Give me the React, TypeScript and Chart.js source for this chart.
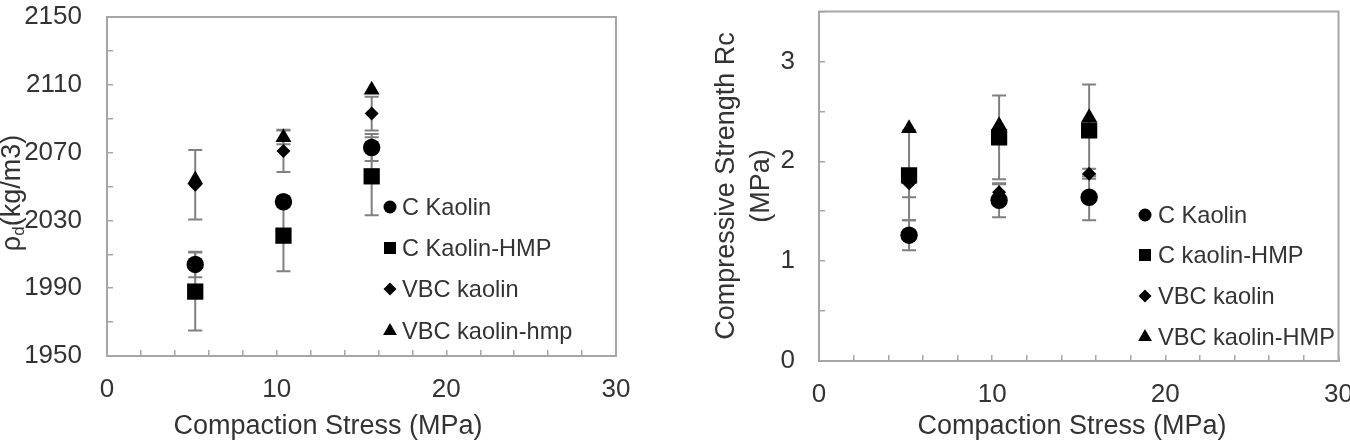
import React, { useEffect, useRef } from 'react';
import { Chart, registerables } from 'chart.js';

Chart.register(...registerables);

// ---------- data ----------
const stress = [5.2, 10.4, 15.6];

const rhoNames = ['C Kaolin', 'C Kaolin-HMP', 'VBC kaolin', 'VBC kaolin-hmp'];
const rhoCKaolin = [2004, 2041, 2073];
const rhoCKaolinErr = [7.5, 3, 8];
const rhoCKaolinHmp = [1988, 2021, 2056];
const rhoCKaolinHmpErr = [23, 21, 23];
const rhoVbcKaolin = [2051, 2071, 2093];
const rhoVbcKaolinErr = [20.5, 12.5, 10];
const rhoVbcKaolinHmp = [2054, 2079, 2107];
const rhoVbcKaolinHmpErr = [0, 4, 0];

const rcNames = ['C Kaolin', 'C kaolin-HMP', 'VBC kaolin', 'VBC kaolin-HMP'];
const rcCKaolin = [1.26, 1.61, 1.64];
const rcCKaolinErr = [0.15, 0.17, 0.23];
const rcCKaolinHmp = [1.86, 2.24, 2.31];
const rcCKaolinHmpErr = [0.45, 0.42, 0.46];
const rcVbcKaolin = [1.78, 1.69, 1.875];
const rcVbcKaolinErr = [0.14, 0.08, 0.05];
const rcVbcKaolinHmp = [2.33, 2.36, 2.44];
const rcVbcKaolinHmpErr = [0, 0, 0];

const xTitle = 'Compaction Stress (MPa)';
const rhoTitleMain = 'ρ';
const rhoTitleSub = 'd';
const rhoTitleRest = '(kg/m3)';
const rcTitleLines = ['Compressive Strength Rc', '(MPa)'];

const xRange = [0, 30];
const xStep = 2;
const xLabelEvery = 10;
const rhoRange = [1950, 2150];
const rhoStep = 20;
const rhoLabelEvery = 40;
const rcRange = [0, 3.5];
const rcStep = 0.5;
const rcLabelEvery = 1;

// ---------- styles ----------
const FONT = '"Liberation Sans", Arial, Helvetica, sans-serif';
const TEXT = '#333333';
const AXIS = '#a6a6a6';
const ERR = '#808080';
const STYLES = ['circle', 'rect', 'rectRot', 'triangle'];
const RADII = [8.7, 11.5, 7, 9.2];
const LEG_R = [6.5, 6, 6.5, 8];

type Panel = {
  left: number;
  width: number;
  height: number;
  area: { left: number; right: number; top: number; bottom: number };
  yMin: number;
  yMax: number;
  yStep: number;
  yLabel: (v: number) => string;
  yPad: number;
  names: string[];
  values: number[][];
  errors: number[][];
  drawYTitle: (ctx: CanvasRenderingContext2D) => void;
  xTitleX: number;
  legendMarkerX: number;
  legendTextX: number;
  legendRows: number[];
};

function drawMarker(ctx: CanvasRenderingContext2D, style: string, x: number, y: number, r: number) {
  ctx.beginPath();
  if (style === 'circle') {
    ctx.arc(x, y, r, 0, Math.PI * 2);
  } else if (style === 'rect') {
    ctx.rect(x - r, y - r, 2 * r, 2 * r);
  } else if (style === 'rectRot') {
    ctx.moveTo(x, y - r);
    ctx.lineTo(x + r, y);
    ctx.lineTo(x, y + r);
    ctx.lineTo(x - r, y);
    ctx.closePath();
  } else {
    ctx.moveTo(x, y - r);
    ctx.lineTo(x + r * 0.866, y + r / 2);
    ctx.lineTo(x - r * 0.866, y + r / 2);
    ctx.closePath();
  }
  ctx.fill();
}

function makeDecor(p: Panel) {
  return {
    id: 'decor',
    beforeDatasetsDraw(chart: any) {
      const { ctx, chartArea: a, scales } = chart;
      ctx.save();
      ctx.strokeStyle = AXIS;
      ctx.lineWidth = 2;
      ctx.strokeRect(a.left, a.top, a.right - a.left, a.bottom - a.top);
      ctx.strokeStyle = ERR;
      ctx.lineWidth = 2;
      chart.data.datasets.forEach((ds: any, i: number) => {
        const meta = chart.getDatasetMeta(i);
        (ds.errors as number[]).forEach((e, j) => {
          if (!e) return;
          const pt = meta.data[j];
          const v = ds.data[j].y;
          const y1 = scales.y.getPixelForValue(v + e);
          const y2 = scales.y.getPixelForValue(v - e);
          ctx.beginPath();
          ctx.moveTo(pt.x, y1);
          ctx.lineTo(pt.x, y2);
          ctx.moveTo(pt.x - 7, y1);
          ctx.lineTo(pt.x + 7, y1);
          ctx.moveTo(pt.x - 7, y2);
          ctx.lineTo(pt.x + 7, y2);
          ctx.stroke();
        });
      });
      ctx.restore();
    },
    afterDraw(chart: any) {
      const { ctx } = chart;
      ctx.save();
      ctx.fillStyle = TEXT;
      ctx.font = `27px ${FONT}`;
      ctx.textAlign = 'center';
      ctx.textBaseline = 'alphabetic';
      ctx.fillText(xTitle, p.xTitleX, 434);
      p.drawYTitle(ctx);
      ctx.font = `23.6px ${FONT}`;
      ctx.textAlign = 'left';
      ctx.textBaseline = 'middle';
      chart.data.datasets.forEach((ds: any, i: number) => {
        const y = p.legendRows[i];
        ctx.fillStyle = '#000';
        drawMarker(ctx, STYLES[i], p.legendMarkerX, y, LEG_R[i]);
        ctx.fillStyle = TEXT;
        ctx.fillText(ds.label, p.legendTextX, y + 1);
      });
      ctx.restore();
    },
  };
}

function makeConfig(p: Panel): any {
  const tickFont = { family: FONT, size: 26 };
  return {
    type: 'scatter',
    data: {
      datasets: p.names.map((name, i) => ({
        label: name,
        data: stress.map((x, j) => ({ x, y: p.values[i][j] })),
        errors: p.errors[i],
        pointStyle: STYLES[i],
        pointRadius: RADII[i],
        pointHoverRadius: RADII[i],
        backgroundColor: '#000',
        borderColor: '#000',
        borderWidth: 0,
        showLine: false,
      })),
    },
    options: {
      responsive: false,
      animation: false,
      devicePixelRatio: 1,
      events: [],
      layout: { padding: { left: 0, top: p.area.top, right: p.width - p.area.right, bottom: 0 } },
      plugins: { legend: { display: false }, tooltip: { enabled: false } },
      scales: {
        x: {
          type: 'linear',
          min: xRange[0],
          max: xRange[1],
          ticks: {
            stepSize: xStep,
            autoSkip: false,
            maxRotation: 0,
            minRotation: 0,
            padding: 24,
            color: TEXT,
            font: tickFont,
            callback: (v: number) => (v % xLabelEvery === 0 ? String(v) : ''),
          },
          grid: { drawOnChartArea: false, drawTicks: true, tickLength: -6, color: AXIS, lineWidth: 1.5 },
          border: { display: true, color: AXIS, width: 2 },
          afterFit: (s: any) => {
            s.height = p.height - p.area.bottom;
            s.paddingLeft = 0;
            s.paddingRight = 0;
          },
        },
        y: {
          type: 'linear',
          min: p.yMin,
          max: p.yMax,
          ticks: {
            stepSize: p.yStep,
            autoSkip: false,
            padding: p.yPad,
            color: TEXT,
            font: tickFont,
            callback: (v: number) => p.yLabel(v),
          },
          grid: { drawOnChartArea: false, drawTicks: true, tickLength: -6, color: AXIS, lineWidth: 1.5 },
          border: { display: true, color: AXIS, width: 2 },
          afterFit: (s: any) => {
            s.width = p.area.left;
            s.paddingTop = 0;
            s.paddingBottom = 0;
          },
        },
      },
    },
    plugins: [makeDecor(p)],
  };
}

const rhoPanel: Panel = {
  left: 0,
  width: 660,
  height: 444,
  area: { left: 107, right: 616, top: 17, bottom: 356 },
  yMin: rhoRange[0],
  yMax: rhoRange[1],
  yStep: rhoStep,
  yLabel: (v) => ((v - rhoRange[0]) % rhoLabelEvery === 0 ? String(v) : ''),
  yPad: 31,
  names: rhoNames,
  values: [rhoCKaolin, rhoCKaolinHmp, rhoVbcKaolin, rhoVbcKaolinHmp],
  errors: [rhoCKaolinErr, rhoCKaolinHmpErr, rhoVbcKaolinErr, rhoVbcKaolinHmpErr],
  drawYTitle: (ctx) => {
    ctx.save();
    ctx.translate(13, 193);
    ctx.rotate(-Math.PI / 2);
    ctx.fillStyle = TEXT;
    ctx.textBaseline = 'middle';
    ctx.textAlign = 'left';
    const big = `27px ${FONT}`;
    const small = `17px ${FONT}`;
    ctx.font = big;
    const w1 = ctx.measureText(rhoTitleMain).width;
    const w3 = ctx.measureText(rhoTitleRest).width;
    ctx.font = small;
    const w2 = ctx.measureText(rhoTitleSub).width;
    let x = -(w1 + w2 + w3) / 2;
    ctx.font = big;
    ctx.fillText(rhoTitleMain, x, 0);
    x += w1;
    ctx.font = small;
    ctx.fillText(rhoTitleSub, x, 6);
    x += w2;
    ctx.font = big;
    ctx.fillText(rhoTitleRest, x, 0);
    ctx.restore();
  },
  xTitleX: 328,
  legendMarkerX: 390,
  legendTextX: 402,
  legendRows: [207, 248, 289, 331],
};

const rcPanel: Panel = {
  left: 660,
  width: 690,
  height: 444,
  area: { left: 159, right: 679, top: 11, bottom: 361 },
  yMin: rcRange[0],
  yMax: rcRange[1],
  yStep: rcStep,
  yLabel: (v) => (Math.abs(v / rcLabelEvery - Math.round(v / rcLabelEvery)) < 1e-9 ? String(v) : ''),
  yPad: 30,
  names: rcNames,
  values: [rcCKaolin, rcCKaolinHmp, rcVbcKaolin, rcVbcKaolinHmp],
  errors: [rcCKaolinErr, rcCKaolinHmpErr, rcVbcKaolinErr, rcVbcKaolinHmpErr],
  drawYTitle: (ctx) => {
    ctx.save();
    ctx.translate(0, 186);
    ctx.rotate(-Math.PI / 2);
    ctx.fillStyle = TEXT;
    ctx.textBaseline = 'middle';
    ctx.textAlign = 'center';
    ctx.font = `27px ${FONT}`;
    ctx.fillText(rcTitleLines[0], 0, 67);
    ctx.fillText(rcTitleLines[1], 0, 102);
    ctx.restore();
  },
  xTitleX: 412,
  legendMarkerX: 485,
  legendTextX: 498,
  legendRows: [215, 255, 296, 337],
};

function ChartPanel({ panel }: { panel: Panel }) {
  const ref = useRef<HTMLCanvasElement | null>(null);
  useEffect(() => {
    if (!ref.current) return;
    const chart = new Chart(ref.current, makeConfig(panel));
    return () => chart.destroy();
  }, [panel]);
  return (
    <canvas
      ref={ref}
      width={panel.width}
      height={panel.height}
      style={{ position: 'absolute', left: panel.left, top: 0, width: panel.width, height: panel.height, display: 'block' }}
    />
  );
}

export default function App() {
  return (
    <div style={{ position: 'absolute', left: 0, top: 0, width: 1350, height: 444, background: '#fff', overflow: 'hidden' }}>
      <ChartPanel panel={rhoPanel} />
      <ChartPanel panel={rcPanel} />
    </div>
  );
}
